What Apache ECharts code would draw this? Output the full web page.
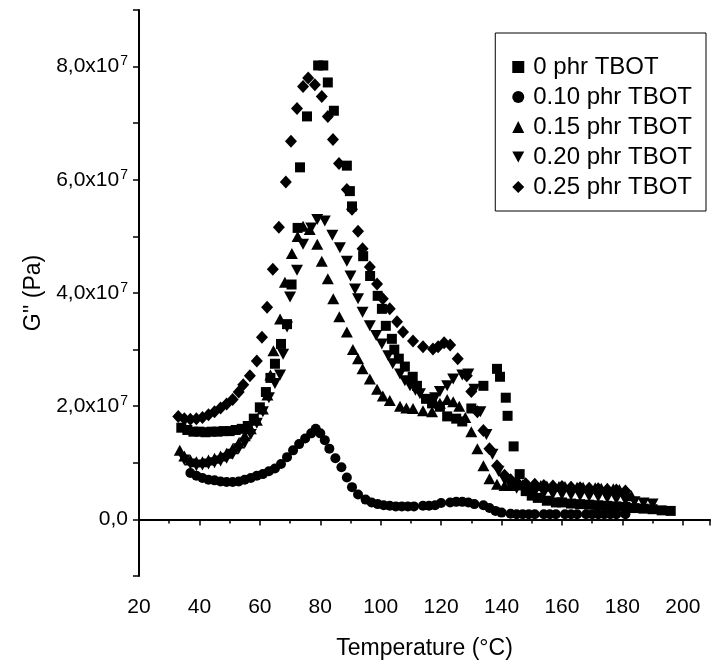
<!DOCTYPE html>
<html>
<head>
<meta charset="utf-8">
<script src="https://cdn.jsdelivr.net/npm/echarts@6/dist/echarts.min.js"></script>
<style>
  html, body { margin: 0; padding: 0; background: #fff; }
  #chart { width: 711px; height: 665px; }
</style>
</head>
<body>
<div id="chart"></div>
<script>
// G'' in units of 10^7 Pa, temperature in °C
var names = ['0 phr TBOT', '0.10 phr TBOT', '0.15 phr TBOT', '0.20 phr TBOT', '0.25 phr TBOT'];

var phr0 = [
  [34,1.62],[36,1.58],[38,1.55],[40,1.55],[42,1.54],[44,1.55],[46,1.55],[48,1.56],[50,1.56],[52,1.58],
  [54,1.6],[56,1.65],[58,1.78],[60,1.98],[62,2.25],[63.5,2.5],[65,2.75],[67,3.1],[69,3.45],[70.5,4.15],
  [72.5,5.15],[73.3,6.22],[75.6,7.12],[79.3,8.02],[81,8.02],[82.5,7.72],[84.5,7.22],[88.8,6.25],[89.8,5.8],
  [90.5,5.53],[94.2,4.65],[96.5,4.3],[99,3.95],[100.4,3.72],[101.7,3.42],[103.7,3.19],[104.5,3.0],[106,2.84],
  [108,2.7],[110.6,2.52],[112,2.36],[115,2.13],[117,2.05],[119.6,1.99],[122,1.82],[125,1.78],[127,1.73],
  [130,1.96],[134,2.36],[138.5,2.66],[139.5,2.52],[141.4,2.15],[142,1.83],[144,1.29],[146,0.8],[148,0.5],
  [150,0.42],[152,0.38],[155,0.33],[158,0.3],[160,0.3],[163,0.28],[166,0.27],[169,0.26],[172,0.25],[175,0.24],
  [178,0.23],[181,0.22],[184,0.2],[187,0.19],[190,0.18],[193,0.16],[196,0.15]
];

var phr010 = [
  [37,0.82],[39,0.77],[41,0.73],[43,0.7],[45,0.69],[47,0.67],[49,0.66],[51,0.66],[53,0.67],[55,0.7],
  [57,0.73],[59,0.77],[61,0.8],[63,0.85],[65,0.9],[67,0.98],[69,1.1],[71,1.22],[73,1.33],[75,1.43],
  [77,1.52],[78.5,1.6],[80,1.52],[81.5,1.4],[83,1.25],[85,1.08],[87,0.92],[88.8,0.74],[90.5,0.57],
  [92.5,0.44],[95,0.35],[97,0.3],[99,0.27],[101,0.25],[103,0.24],[105,0.23],[107,0.23],[109,0.23],[111,0.23],
  [114,0.24],[116,0.24],[118,0.25],[120,0.29],[123,0.3],[125,0.31],[127,0.31],[129,0.3],[131,0.27],
  [134,0.25],[136,0.2],[138,0.15],[140,0.12],[143,0.1],[145,0.09],[147,0.09],[149,0.09],[151,0.09],
  [154,0.09],[156,0.09],[158,0.09],[161,0.09],[163,0.09],[165,0.09],[168,0.09],[170,0.09],[172,0.09],
  [174,0.09],[176,0.09],[178,0.09],[181,0.09]
];

var phr015 = [
  [33.5,1.22],[35,1.12],[37,1.05],[39,1.02],[41,1.02],[43,1.05],[45,1.08],[47,1.12],[49,1.17],[51,1.25],
  [53,1.35],[55,1.48],[57,1.6],[59,1.75],[61,1.95],[62.5,2.2],[63.5,2.55],[64.5,2.98],[66.7,3.54],[68.3,4.19],
  [70.6,4.7],[72.5,5.0],[74.3,5.18],[76.5,5.12],[79,4.86],[80.5,4.56],[82.5,4.25],[84.3,3.9],[86.3,3.58],
  [88.8,3.31],[90.8,3.0],[92.5,2.84],[94,2.66],[96.4,2.48],[98.8,2.3],[100.7,2.18],[103,2.1],[106.4,2.0],
  [108.5,1.97],[110.7,1.96],[114,1.92],[117,1.9],[119.6,2.05],[122,2.12],[124,2.08],[126,2.0],[128,1.8],
  [130,1.55],[132,1.25],[134,0.95],[136,0.72],[138.5,0.62],[141,0.6],[143,0.6],[145,0.61],[147,0.61],
  [149,0.6],[151,0.6],[153,0.6],[155,0.59],[157,0.59],[159,0.58],[161,0.58],[163,0.58],[165,0.57],
  [167,0.57],[169,0.56],[171,0.56],[173,0.55],[175,0.55],[177,0.54],[179,0.53],[181,0.5],[183,0.42]
];

var phr020 = [
  [35,1.05],[37,0.98],[39,0.95],[41,0.96],[43,0.98],[45,1.0],[47,1.03],[49,1.08],[51,1.15],[53,1.25],
  [55,1.35],[57,1.5],[59,1.7],[61,1.9],[63,2.15],[65,2.4],[66.7,2.55],[67.7,2.92],[69,3.4],[70,3.93],
  [72.3,4.4],[74.3,4.86],[77,5.15],[79,5.3],[81.5,5.27],[84,5.02],[86.5,4.8],[88.8,4.56],[90,4.3],
  [91.5,4.07],[92.5,3.9],[94,3.66],[96.4,3.42],[98.5,3.25],[100.4,3.1],[102.5,2.89],[104,2.75],[106.4,2.57],
  [108,2.45],[109.7,2.36],[111.5,2.28],[113,2.22],[116,2.1],[118,2.15],[119.6,2.26],[122,2.36],[124,2.48],
  [127,2.55],[129,2.57],[131,2.3],[133,1.9],[135,1.5],[137,1.15],[139,0.85],[141,0.7],[143,0.6],[145,0.55],
  [148,0.5],[151,0.48],[154,0.46],[157,0.45],[160,0.44],[163,0.43],[166,0.42],[169,0.41],[172,0.4],
  [175,0.38],[178,0.36],[181,0.34],[184,0.31],[187,0.29],[190,0.27]
];

var phr025 = [
  [33,1.82],[35,1.78],[37,1.77],[39,1.78],[41,1.8],[43,1.85],[45,1.9],[47,1.97],[49,2.04],[51,2.12],
  [53,2.25],[54.5,2.38],[56.7,2.54],[59,2.8],[60.7,3.22],[62.4,3.75],[64.3,4.42],[66.3,5.16],[68.6,5.96],
  [70.3,6.68],[72.3,7.26],[74.3,7.65],[76,7.8],[78.2,7.68],[80.5,7.47],[82.5,7.12],[84.2,6.71],[86.2,6.29],
  [88.8,5.83],[90.5,5.48],[92.5,5.09],[94,4.78],[96.4,4.46],[98.8,4.16],[100.7,3.9],[103,3.72],[105.4,3.49],
  [107.4,3.31],[110.7,3.15],[114,3.05],[117.3,3.01],[119,3.05],[121,3.12],[123,3.08],[125.5,2.84],
  [128.5,2.54],[130,2.26],[132,1.9],[134,1.57],[136,1.25],[138.5,0.95],[141,0.78],[143,0.7],[145,0.66],
  [148,0.63],[151,0.62],[154,0.6],[157,0.59],[160,0.58],[163,0.57],[166,0.56],[169,0.55],[172,0.54],
  [175,0.53],[178,0.52],[181,0.5]
];

var yLabelled = [0, 2, 4, 6, 8];

var font = 'Liberation Sans, Arial, sans-serif';
var downTri = 'path://M0,0 L10,0 L5,9 Z';

var chart = echarts.init(document.getElementById('chart'));

function mk(name, data, symbol, size) {
  return {
    name: name,
    type: 'scatter',
    data: data,
    symbol: symbol,
    symbolSize: size,
    itemStyle: { color: '#000', opacity: 1 },
    emphasis: { disabled: true }
  };
}

chart.setOption({
  animation: false,
  backgroundColor: '#fff',
  textStyle: { fontFamily: font, color: '#000' },
  grid: { left: 139, right: 1, top: 10, bottom: 87 },
  legend: {
    orient: 'vertical',
    right: 5,
    top: 33,
    padding: [22, 14, 12, 17],
    borderColor: '#000',
    borderWidth: 1,
    itemWidth: 12,
    itemHeight: 12,
    itemGap: 6,
    textStyle: { fontSize: 24, lineHeight: 24, color: '#000', fontFamily: font, padding: [0, 0, 0, 4] },
    data: [
      { name: names[0], icon: 'rect' },
      { name: names[1], icon: 'circle' },
      { name: names[2], icon: 'triangle' },
      { name: names[3], icon: downTri },
      { name: names[4], icon: 'diamond' }
    ]
  },
  xAxis: {
    type: 'value',
    min: 20,
    max: 209,
    interval: 20,
    name: 'Temperature (°C)',
    nameLocation: 'middle',
    nameGap: 61,
    nameTextStyle: { fontSize: 23, color: '#000', fontFamily: font },
    axisLine: { show: true, lineStyle: { color: '#000', width: 2 } },
    axisTick: { show: true, length: 6, lineStyle: { color: '#000', width: 1.5 } },
    minorTick: { show: true, splitNumber: 2, length: 4, lineStyle: { color: '#000', width: 1.5 } },
    axisLabel: { fontSize: 21, color: '#000', margin: 21, fontFamily: font, showMaxLabel: false },
    splitLine: { show: false }
  },
  yAxis: {
    type: 'value',
    min: -1,
    max: 9,
    interval: 1,
    name: "G'' (Pa)",
    nameLocation: 'middle',
    nameGap: 93,
    nameRotate: 90,
    nameTextStyle: { fontSize: 23, color: '#000', fontFamily: font },
    axisLine: { show: true, lineStyle: { color: '#000', width: 2 } },
    axisTick: { show: true, length: 6, lineStyle: { color: '#000', width: 1.5 } },
    axisLabel: {
      margin: 11,
      color: '#000',
      fontFamily: font,
      fontSize: 21,
      formatter: function (v) {
        if (yLabelled.indexOf(v) < 0) return '';
        if (v === 0) return '0,0';
        return '{n|' + v + ',0x10}{s|7}';
      },
      rich: {
        n: { fontSize: 21, fontFamily: font, color: '#000', lineHeight: 24 },
        s: { fontSize: 14, fontFamily: font, color: '#000', lineHeight: 24, verticalAlign: 'top', padding: [0, 0, 11, 1] }
      }
    },
    splitLine: { show: false }
  },
  series: [
    mk(names[0], phr0, 'rect', 10),
    mk(names[1], phr010, 'circle', 10),
    mk(names[2], phr015, 'triangle', [12, 11]),
    mk(names[3], phr020, downTri, [12, 11]),
    mk(names[4], phr025, 'diamond', [12, 13])
  ]
});
</script>
</body>
</html>
